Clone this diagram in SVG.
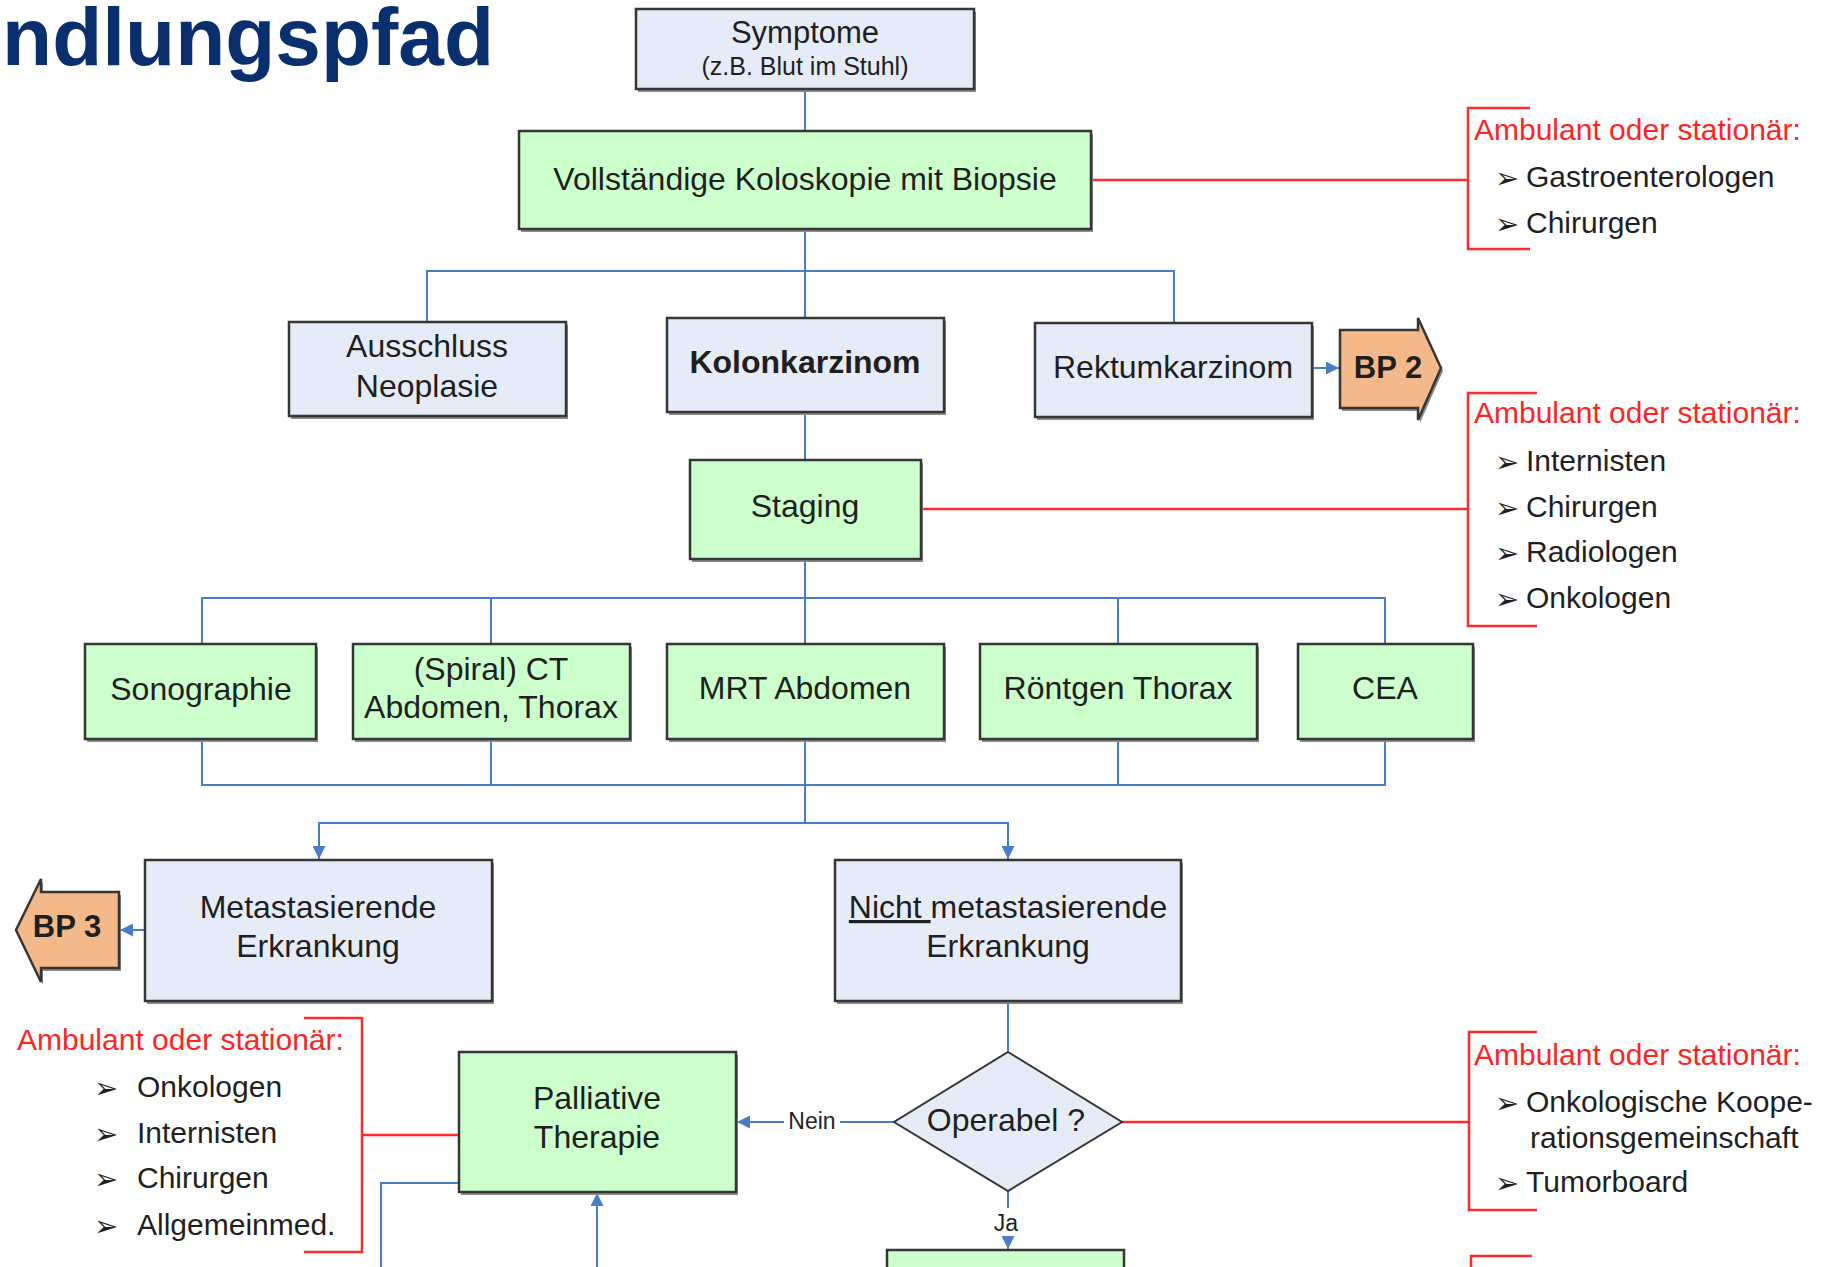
<svg xmlns="http://www.w3.org/2000/svg" width="1833" height="1267" viewBox="0 0 1833 1267">
<defs>
<style>
.bx{stroke:#363636;stroke-width:2.5}
.bl{fill:#E6ECF7}
.gr{fill:#CCFFCC}
.or{fill:#F3B98A}
.sh{fill:#8a8a8a}
text{font-family:"Liberation Sans",Arial,sans-serif;fill:#1f1f1f}
.t{font-size:32px;text-anchor:middle}
.b{font-weight:bold}
.hd{font-size:30px;fill:#FF2424}
.li{font-size:30px}
.bu{font-family:"DejaVu Sans",sans-serif;font-size:29px;fill:#1f1f1f}
.lab{font-size:23px;text-anchor:middle}
.con{fill:none;stroke:#4A7DC4;stroke-width:2}
.red{fill:none;stroke:#FF2A2A;stroke-width:2.5}
</style>
<marker id="ah" viewBox="0 0 10 10" refX="10" refY="5" markerWidth="6.5" markerHeight="6.5" orient="auto" markerUnits="strokeWidth">
<path d="M0,0 L10,5 L0,10 z" fill="#4A7DC4"/>
</marker>
</defs>
<rect width="1833" height="1267" fill="#ffffff"/>

<g id="title">
<text x="494" y="65" font-size="82" font-weight="bold" text-anchor="end" style="fill:#0B2E6E">ndlungspfad</text>
</g>

<g id="connectors">
<path class="con" d="M805 89V131"/>
<path class="con" d="M805 229V318"/>
<path class="con" d="M427 322V271H1174V323"/>
<path class="con" d="M805 412V460"/>
<path class="con" d="M1312 368H1339" marker-end="url(#ah)"/>
<path class="con" d="M805 559V644"/>
<path class="con" d="M202 644V598H1385V644"/>
<path class="con" d="M491 598V644"/>
<path class="con" d="M1118 598V644"/>
<path class="con" d="M202 739V785H1385V739"/>
<path class="con" d="M491 739V785"/>
<path class="con" d="M1118 739V785"/>
<path class="con" d="M805 739V823"/>
<path class="con" d="M805 823H319V859" marker-end="url(#ah)"/>
<path class="con" d="M805 823H1008V859" marker-end="url(#ah)"/>
<path class="con" d="M145 930H120" marker-end="url(#ah)"/>
<path class="con" d="M1008 1001V1052"/>
<path class="con" d="M894 1122H737" marker-end="url(#ah)"/>
<path class="con" d="M1008 1191V1249" marker-end="url(#ah)"/>
<path class="con" d="M459 1183H381V1267"/>
<path class="con" d="M597 1267V1193" marker-end="url(#ah)"/>
<rect x="784" y="1108" width="56" height="26" fill="#ffffff"/>
<text class="lab" x="812" y="1129">Nein</text>
<rect x="990" y="1208" width="34" height="28" fill="#ffffff"/>
<text class="lab" x="1006" y="1231">Ja</text>
<path class="red" d="M1091 180H1468"/>
<path class="red" d="M921 509H1468"/>
<path class="red" d="M1122 1122H1469"/>
<path class="red" d="M362 1135H459"/>
</g>

<g id="symptome">
<rect class="sh" x="638" y="12" width="338" height="80"/>
<rect class="bx bl" x="636" y="9" width="338" height="80"/>
<text class="t" x="805" y="43" style="font-size:31px">Symptome</text>
<text class="t" x="805" y="75" style="font-size:25px">(z.B. Blut im Stuhl)</text>
</g>

<g id="koloskopie">
<rect class="sh" x="521" y="134" width="572" height="98"/>
<rect class="bx gr" x="519" y="131" width="572" height="98"/>
<text class="t" x="805" y="190">Vollständige Koloskopie mit Biopsie</text>
</g>

<g id="ausschluss">
<rect class="sh" x="291" y="325" width="277" height="94"/>
<rect class="bx bl" x="289" y="322" width="277" height="94"/>
<text class="t" x="427" y="357">Ausschluss</text>
<text class="t" x="427" y="397">Neoplasie</text>
</g>

<g id="kolonkarzinom">
<rect class="sh" x="669" y="321" width="277" height="94"/>
<rect class="bx bl" x="667" y="318" width="277" height="94"/>
<text class="t b" x="805" y="373">Kolonkarzinom</text>
</g>

<g id="rektumkarzinom">
<rect class="sh" x="1037" y="326" width="277" height="94"/>
<rect class="bx bl" x="1035" y="323" width="277" height="94"/>
<text class="t" x="1173" y="378">Rektumkarzinom</text>
</g>

<g id="bp2">
<polygon class="sh" points="1342,333 1420,333 1420,321 1443,371 1420,423 1420,411 1342,411"/>
<polygon class="bx or" points="1340,330 1418,330 1418,318 1441,368 1418,420 1418,408 1340,408"/>
<text class="t b" x="1388" y="378" style="font-size:31px">BP 2</text>
</g>

<g id="staging">
<rect class="sh" x="692" y="463" width="231" height="99"/>
<rect class="bx gr" x="690" y="460" width="231" height="99"/>
<text class="t" x="805" y="517">Staging</text>
</g>

<g id="sonographie">
<rect class="sh" x="87" y="647" width="231" height="95"/>
<rect class="bx gr" x="85" y="644" width="231" height="95"/>
<text class="t" x="201" y="700">Sonographie</text>
</g>

<g id="ct">
<rect class="sh" x="355" y="647" width="277" height="95"/>
<rect class="bx gr" x="353" y="644" width="277" height="95"/>
<text class="t" x="491" y="680">(Spiral) CT</text>
<text class="t" x="491" y="718">Abdomen, Thorax</text>
</g>

<g id="mrt">
<rect class="sh" x="669" y="647" width="277" height="95"/>
<rect class="bx gr" x="667" y="644" width="277" height="95"/>
<text class="t" x="805" y="699">MRT Abdomen</text>
</g>

<g id="roentgen">
<rect class="sh" x="982" y="647" width="277" height="95"/>
<rect class="bx gr" x="980" y="644" width="277" height="95"/>
<text class="t" x="1118" y="699">Röntgen Thorax</text>
</g>

<g id="cea">
<rect class="sh" x="1300" y="647" width="175" height="95"/>
<rect class="bx gr" x="1298" y="644" width="175" height="95"/>
<text class="t" x="1385" y="699">CEA</text>
</g>

<g id="metastasierend">
<rect class="sh" x="147" y="863" width="347" height="141"/>
<rect class="bx bl" x="145" y="860" width="347" height="141"/>
<text class="t" x="318" y="918">Metastasierende</text>
<text class="t" x="318" y="957">Erkrankung</text>
</g>

<g id="bp3">
<polygon class="sh" points="121,895 43,895 43,882 18,933 43,985 43,971 121,971"/>
<polygon class="bx or" points="119,892 41,892 41,879 16,930 41,982 41,968 119,968"/>
<text class="t b" x="67" y="937" style="font-size:31px">BP 3</text>
</g>

<g id="nicht-metastasierend">
<rect class="sh" x="837" y="863" width="346" height="141"/>
<rect class="bx bl" x="835" y="860" width="346" height="141"/>
<text class="t" x="1008" y="918"><tspan text-decoration="underline">Nicht </tspan>metastasierende</text>
<text class="t" x="1008" y="957">Erkrankung</text>
</g>

<g id="palliativ">
<rect class="sh" x="461" y="1055" width="277" height="140"/>
<rect class="bx gr" x="459" y="1052" width="277" height="140"/>
<text class="t" x="597" y="1109">Palliative</text>
<text class="t" x="597" y="1148">Therapie</text>
</g>

<g id="operabel">
<polygon class="bx bl" points="1008,1052 1122,1122 1008,1191 894,1122" style="stroke-width:2"/>
<text class="t" x="1006" y="1131">Operabel ?</text>
</g>

<g id="operation">
<rect class="bx gr" x="887" y="1250" width="237" height="30"/>
</g>

<g id="info-koloskopie">
<path class="red" d="M1530 108H1468V249H1530"/>
<text class="hd" x="1474" y="140">Ambulant oder stationär:</text>
<text class="bu" x="1495" y="188">➢</text>
<text class="li" x="1526" y="187">Gastroenterologen</text>
<text class="bu" x="1495" y="234">➢</text>
<text class="li" x="1526" y="233">Chirurgen</text>
</g>

<g id="info-staging">
<path class="red" d="M1537 393H1468V626H1537"/>
<text class="hd" x="1474" y="423">Ambulant oder stationär:</text>
<text class="bu" x="1495" y="472">➢</text>
<text class="li" x="1526" y="471">Internisten</text>
<text class="bu" x="1495" y="518">➢</text>
<text class="li" x="1526" y="517">Chirurgen</text>
<text class="bu" x="1495" y="563">➢</text>
<text class="li" x="1526" y="562">Radiologen</text>
<text class="bu" x="1495" y="609">➢</text>
<text class="li" x="1526" y="608">Onkologen</text>
</g>

<g id="info-operabel">
<path class="red" d="M1537 1032H1469V1210H1537"/>
<text class="hd" x="1474" y="1065">Ambulant oder stationär:</text>
<text class="bu" x="1495" y="1113">➢</text>
<text class="li" x="1526" y="1112">Onkologische Koope-</text>
<text class="li" x="1530" y="1148">rationsgemeinschaft</text>
<text class="bu" x="1495" y="1193">➢</text>
<text class="li" x="1526" y="1192">Tumorboard</text>
</g>

<g id="info-palliativ">
<path class="red" d="M304 1018H362V1252H304"/>
<text class="hd" x="17" y="1050">Ambulant oder stationär:</text>
<text class="bu" x="94" y="1098">➢</text>
<text class="li" x="137" y="1097">Onkologen</text>
<text class="bu" x="94" y="1144">➢</text>
<text class="li" x="137" y="1143">Internisten</text>
<text class="bu" x="94" y="1189">➢</text>
<text class="li" x="137" y="1188">Chirurgen</text>
<text class="bu" x="94" y="1236">➢</text>
<text class="li" x="137" y="1235">Allgemeinmed.</text>
</g>

<g id="info-bottom">
<path class="red" d="M1532 1256H1471V1270"/>
</g>
</svg>
